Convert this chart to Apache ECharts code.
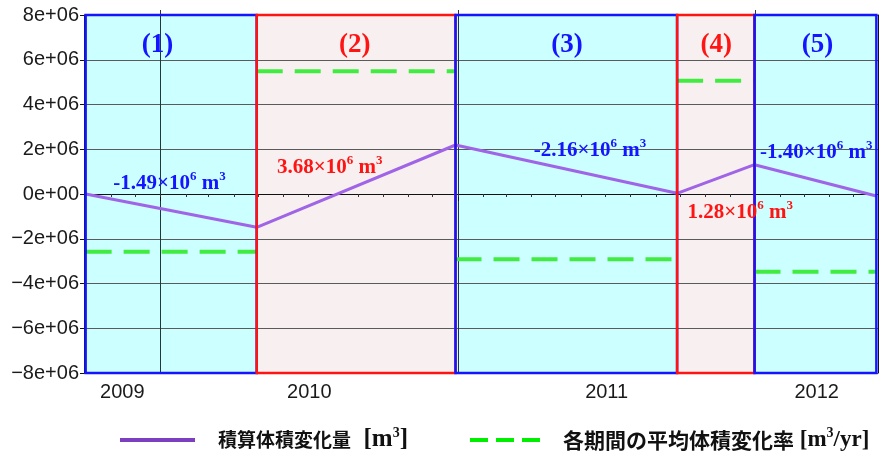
<!DOCTYPE html>
<html>
<head>
<meta charset="utf-8">
<script src="https://cdn.jsdelivr.net/npm/echarts@6/dist/echarts.min.js"></script>
<style>
html,body{margin:0;padding:0;background:#fff;}
#main{width:881px;height:458px;}
</style>
</head>
<body>
<div id="main"></div>
<script>
// 期間の区切り
var periodName  = ['(1)', '(2)', '(3)', '(4)', '(5)'];
var periodStart = ['2009-10-01', '2010-04-29', '2010-12-29', '2011-09-27', '2011-12-31'];
var periodEnd   = ['2010-04-29', '2010-12-29', '2011-09-27', '2011-12-31', '2012-05-29'];
// 積算体積変化量 [m3]
var cumDates  = ['2009-10-01', '2010-04-29', '2010-12-29', '2011-09-27', '2011-12-31', '2012-05-29'];
var cumValues = [0, -1.49e6, 2.19e6, 0.03e6, 1.31e6, -0.09e6];
// 各期間の平均体積変化率 [m3/yr]
var rateValues = [-2.58e6, 5.49e6, -2.92e6, 5.06e6, -3.48e6];
// 各期間の体積変化量 (x10^6 m3)
var changeText = ['-1.49', '3.68', '-2.16', '1.28', '-1.40'];
var yearLabels = [2009, 2010, 2011, 2012];

var xMinDate = '2009-09-29', xMaxDate = '2012-05-31';
var yMin = -8e6, yMax = 8e6, yStep = 2e6;

// annotation positions (decimal year, value)
var changePos = [[2010.03, 0.45e6], [2010.569, 1.2e6], [2011.444, 1.95e6], [2011.949, -0.85e6], [2012.205, 1.85e6]];
var titlePos = [2009.99, 2010.653, 2011.367, 2011.869, 2012.209];
var titleY = 6.65e6;

function toYear(s) {
  var p = s.split('-').map(Number);
  var a = Date.UTC(p[0], 0, 1), b = Date.UTC(p[0] + 1, 0, 1);
  return p[0] + (Date.UTC(p[0], p[1] - 1, p[2]) - a) / (b - a);
}
var xMin = toYear(xMinDate), xMax = toYear(xMaxDate);

var BLUE = '#1414ff', RED = '#ff1414';
var colorOf = function (i) { return i % 2 == 0 ? BLUE : RED; };
var fillOf = function (i) { return i % 2 == 0 ? '#ccffff' : '#f8f0f0'; };

var monthTicks = [];
for (var y = 2009; y <= 2012; y++) {
  for (var m = 1; m <= 12; m++) {
    var v = toYear(y + '-' + m + '-1');
    if (v >= xMin && v <= xMax) monthTicks.push(v);
  }
}
var yearTicks = [2010, 2011, 2012];
var yearLabelPos = yearLabels.map(function (yr) {
  return (Math.max(yr, xMin) + Math.min(yr + 1, xMax)) / 2;
});

var cumData = cumDates.map(function (d, i) { return [toYear(d), cumValues[i]]; });
var rateData = [];
rateValues.forEach(function (r, i) {
  rateData.push([toYear(periodStart[i]), r]);
  rateData.push([toYear(periodEnd[i]), r]);
  if (i < rateValues.length - 1) rateData.push([toYear(periodEnd[i]), '-']);
});

var fillAreas = [], borderAreas = [];
periodStart.forEach(function (s, i) {
  fillAreas.push([
    {xAxis: toYear(s), yAxis: yMin, itemStyle: {color: fillOf(i), borderWidth: 0}},
    {xAxis: toYear(periodEnd[i]), yAxis: yMax}
  ]);
  borderAreas.push([
    {xAxis: toYear(s), yAxis: yMin, itemStyle: {color: 'rgba(0,0,0,0)', borderColor: colorOf(i), borderWidth: 2.5}},
    {xAxis: toYear(periodEnd[i]), yAxis: yMax}
  ]);
});

var serif = 'Liberation Serif, Times New Roman, serif';
var richLbl = {
  nb: {fontFamily: serif, fontWeight: 'bold', fontSize: 21, lineHeight: 27, color: BLUE},
  sb: {fontFamily: serif, fontWeight: 'bold', fontSize: 13, lineHeight: 14, color: BLUE, verticalAlign: 'top'},
  nr: {fontFamily: serif, fontWeight: 'bold', fontSize: 21, lineHeight: 27, color: RED},
  sr: {fontFamily: serif, fontWeight: 'bold', fontSize: 13, lineHeight: 14, color: RED, verticalAlign: 'top'}
};
var notes = [];
changeText.forEach(function (t, i) {
  var k = i % 2 == 0 ? 'b' : 'r';
  notes.push({
    coord: changePos[i],
    label: {formatter: '{n' + k + '|' + t + '×10}{s' + k + '|6}{n' + k + '| m}{s' + k + '|3}'}
  });
  notes.push({
    coord: [titlePos[i], titleY],
    label: {formatter: periodName[i], fontFamily: serif, fontWeight: 'bold', fontSize: 27, color: colorOf(i)}
  });
});

var legendRich = function (cjkSize, brSize) {
  return {
    g: {width: 18},
    c: {fontFamily: 'Noto Sans CJK JP', fontWeight: 'bold', fontSize: cjkSize, lineHeight: 28, color: '#111'},
    b: {fontFamily: serif, fontWeight: 'bold', fontSize: brSize, lineHeight: 28, color: '#111'},
    s: {fontFamily: serif, fontWeight: 'bold', fontSize: 14, lineHeight: 16, color: '#111', verticalAlign: 'top'}
  };
};

var myChart = echarts.init(document.getElementById('main'));
var option = {
  animation: false,
  grid: {left: 84, right: 3, top: 15, bottom: 85},
  xAxis: [
    {
      type: 'value', min: xMin, max: xMax, z: 1,
      axisLine: {show: true, lineStyle: {color: '#111', width: 1}},
      axisTick: {show: true, customValues: yearTicks, length: 7, lineStyle: {color: '#111'}},
      axisLabel: {
        customValues: yearLabelPos, margin: 9,
        fontFamily: 'Liberation Sans, Arial, sans-serif', fontSize: 20, color: '#1a1a1a',
        formatter: function (v) { return String(Math.floor(v)); }
      },
      splitLine: {show: true, lineStyle: {color: '#203838', width: 1}}
    },
    {
      type: 'value', min: xMin, max: xMax, position: 'bottom', z: 1,
      axisLine: {show: false},
      axisTick: {show: true, customValues: monthTicks, length: 3, lineStyle: {color: '#333'}},
      axisLabel: {show: false},
      splitLine: {show: false}
    },
    {
      type: 'value', min: xMin, max: xMax, position: 'top', z: 1,
      axisLine: {show: false},
      axisTick: {show: true, customValues: yearTicks, length: 5, lineStyle: {color: '#333'}},
      axisLabel: {show: false},
      splitLine: {show: false}
    }
  ],
  yAxis: [
    {
      type: 'value', min: yMin, max: yMax, interval: yStep, z: 1,
      axisLine: {show: true, lineStyle: {color: '#111'}},
      axisTick: {show: true, length: 4, lineStyle: {color: '#111'}},
      axisLabel: {
        margin: 5, fontFamily: 'Liberation Sans, Arial, sans-serif', fontSize: 20, color: '#1a1a1a',
        formatter: function (v) {
          if (v === 0) return '0e+00';
          return (v < 0 ? '\u2212' : '') + Math.abs(v / 1e6) + 'e+06';
        }
      },
      splitLine: {show: true, lineStyle: {color: '#5a5a5a', width: 1}}
    },
    {
      type: 'value', min: yMin, max: yMax, position: 'right', z: 1,
      axisLine: {show: true, lineStyle: {color: '#111'}},
      axisTick: {show: false}, axisLabel: {show: false}, splitLine: {show: false}
    }
  ],
  legend: [
    {
      left: 120, top: 426, padding: 0, itemWidth: 75, itemHeight: 4,
      data: [{name: '積算体積変化量', icon: 'rect', itemStyle: {color: '#7b3fbf', borderWidth: 0}}],
      formatter: function () { return '{g|}{c|積算体積変化量}{b|  [m}{s|3}{b|]}'; },
      textStyle: {rich: legendRich(19, 25)}
    },
    {
      left: 470, top: 426, padding: 0, itemWidth: 70, itemHeight: 4,
      data: [{name: '各期間の平均体積変化率', icon: 'path://M0,0H18V4H0Z M26,0H44V4H26Z M52,0H70V4H52Z', itemStyle: {color: '#00ee00', borderWidth: 0}}],
      formatter: function () { return '{g|}{c|各期間の平均体積変化率}{b| [m}{s|3}{b|/yr]}'; },
      textStyle: {rich: legendRich(21, 23)}
    }
  ],
  series: [
    {
      name: 'fills', type: 'line', data: [], silent: true,
      markArea: {silent: true, z: 0, data: fillAreas}
    },
    {
      name: 'borders', type: 'line', data: [], silent: true,
      markArea: {silent: true, z: 3, data: borderAreas}
    },
    {
      name: '積算体積変化量', type: 'line', data: cumData, z: 2,
      symbol: 'none', lineStyle: {color: '#a064e6', width: 3}, itemStyle: {color: '#a064e6'}
    },
    {
      name: '各期間の平均体積変化率', type: 'line', data: rateData, z: 2,
      symbol: 'none', connectNulls: false,
      lineStyle: {color: '#40ec40', width: 4, type: [26, 12]}, itemStyle: {color: '#40ec40'}
    },
    {
      name: 'notes', type: 'line', data: [], silent: true,
      markPoint: {
        z: 5, symbol: 'circle', symbolSize: 0, silent: true,
        label: {show: true, position: 'inside', rich: richLbl},
        data: notes
      }
    }
  ]
};
myChart.setOption(option);
</script>
</body>
</html>
